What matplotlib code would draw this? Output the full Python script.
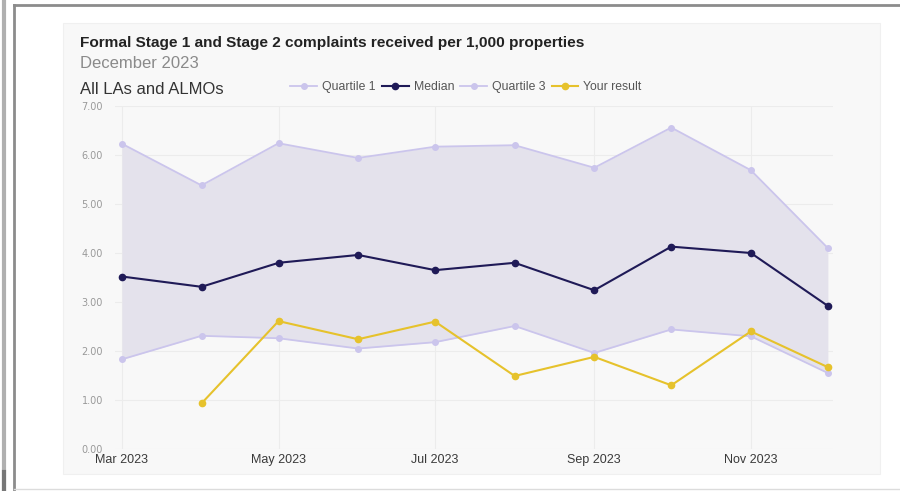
import numpy as np
import pandas as pd
import matplotlib
matplotlib.use("Agg")
import matplotlib.pyplot as plt
import matplotlib.dates as mdates
from matplotlib.patches import Rectangle
from matplotlib.lines import Line2D

plt.rcParams['font.family'] = ['Liberation Sans', 'DejaVu Sans']

# monthly figures, complaints per 1,000 properties
months = pd.date_range('2023-03-01', periods=10, freq='MS')
quartile_1 = [1.83, 2.31, 2.26, 2.05, 2.18, 2.51, 1.96, 2.44, 2.30, 1.55]
median = [3.52, 3.31, 3.80, 3.96, 3.65, 3.80, 3.24, 4.13, 4.00, 2.92]
quartile_3 = [6.23, 5.38, 6.24, 5.94, 6.17, 6.20, 5.74, 6.56, 5.69, 4.10]
your_result = [np.nan, 0.93, 2.61, 2.24, 2.60, 1.49, 1.88, 1.30, 2.40, 1.67]

y_ticks = [0, 1, 2, 3, 4, 5, 6, 7]

W, H = 900, 491
Q_COL = '#cbc5ec'
MED_COL = '#1f1a57'
YOU_COL = '#e6c22c'
BAND_COL = '#e4e2ec'


def fx(px):
    return px / W


def fy(py):
    return 1 - py / H


fig = plt.figure(figsize=(W / 100, H / 100), dpi=100)
fig.patch.set_facecolor('white')

# page frame around the card
fig.add_artist(Line2D([fx(14), 1], [fy(5), fy(5)], color='#8c8c8c', lw=2))
fig.add_artist(Line2D([fx(14), fx(14)], [fy(5), fy(490)], color='#8c8c8c', lw=2))
fig.add_artist(Line2D([fx(14), 1], [fy(489), fy(489)], color='#dcdcdc', lw=1))
fig.add_artist(Line2D([fx(4), fx(4)], [0, 1], color='#b0b0b0', lw=3))
fig.add_artist(Line2D([fx(4), fx(4)], [0, fy(472)], color='#777777', lw=3))

# card background
fig.add_artist(Rectangle((fx(63), fy(474)), fx(880 - 63), (474 - 23) / H,
                         facecolor='#f8f8f8', edgecolor='#f0f0f0', lw=0.8,
                         zorder=0))

fig.text(fx(80), fy(43), 'Formal Stage 1 and Stage 2 complaints received per 1,000 properties',
         fontsize=11.1, fontweight='bold', color='#222222', va='center')
fig.text(fx(80), fy(63), 'December 2023', fontsize=12, color='#8a8a8a', va='center')
fig.text(fx(80), fy(90), 'All LAs and ALMOs', fontsize=12, color='#333333', va='center')

ax = fig.add_axes([fx(115), fy(449), fx(833 - 115), (449 - 106) / H])
ax.set_facecolor('none')

ax.fill_between(months, quartile_1, quartile_3, color=BAND_COL, lw=0, zorder=1)
ax.plot(months, quartile_1, color=Q_COL, lw=1.3, marker='o', ms=4, zorder=2,
        label='Quartile 1')
ax.plot(months, median, color=MED_COL, lw=1.5, marker='o', ms=4.5, zorder=3,
        label='Median')
ax.plot(months, quartile_3, color=Q_COL, lw=1.3, marker='o', ms=4, zorder=2,
        label='Quartile 3')
ax.plot(months, your_result, color=YOU_COL, lw=1.5, marker='o', ms=4.5, zorder=4,
        label='Your result')

ax.set_ylim(0, 7)
ax.set_yticks(y_ticks)
ax.set_yticklabels(['%.2f' % v for v in y_ticks], family='DejaVu Sans')
ax.set_xlim(months[0] - pd.Timedelta(days=2.7), months[-1] + pd.Timedelta(days=2))
ax.xaxis.set_major_locator(mdates.MonthLocator(bymonth=[3, 5, 7, 9, 11]))
ax.xaxis.set_major_formatter(mdates.DateFormatter('%b %Y'))

ax.grid(True, color='#ececec', lw=0.8, zorder=0)
ax.set_axisbelow(True)
for s in ax.spines.values():
    s.set_visible(False)
ax.tick_params(axis='y', length=0, pad=8.6, labelsize=7, labelcolor='#999999')
ax.tick_params(axis='x', length=0, pad=3.5, labelsize=9, labelcolor='#3a3a3a')

fig.legend(loc='center', bbox_to_anchor=(fx(466), fy(87)), ncol=4, frameon=False,
           fontsize=8.8, labelcolor='#555555', handlelength=2.2, handletextpad=0.4,
           columnspacing=0.5, borderpad=0)

fig.savefig('out.png', dpi=100)
